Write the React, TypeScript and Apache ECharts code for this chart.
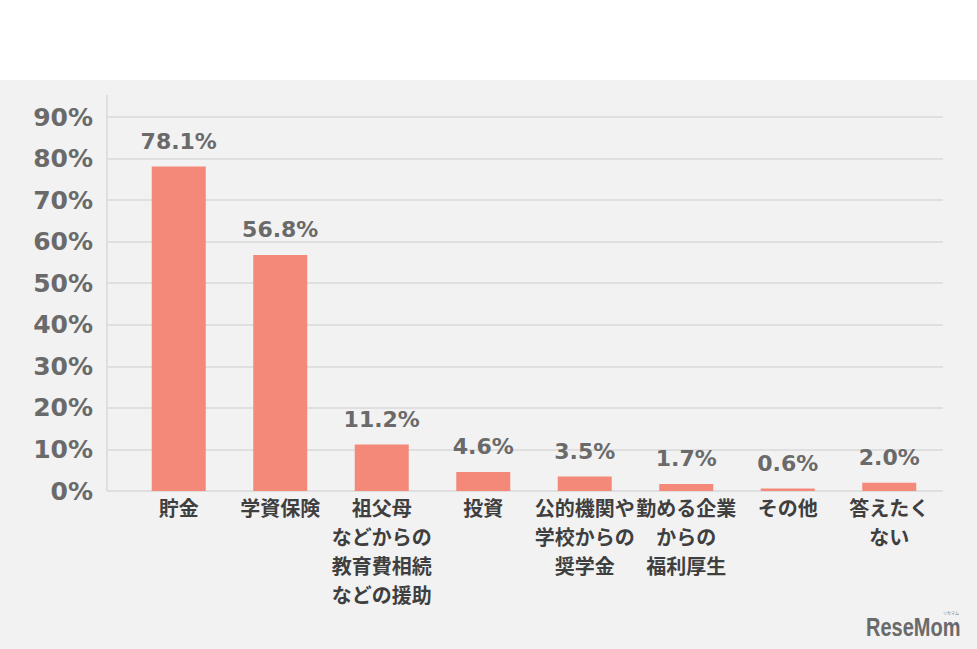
import React, { useEffect, useRef } from "react";
import * as echarts from "echarts";

const categories = [
  "貯金",
  "学資保険",
  "祖父母\nなどからの\n教育費相続\nなどの援助",
  "投資",
  "公的機関や\n学校からの\n奨学金",
  "勤める企業\nからの\n福利厚生",
  "その他",
  "答えたく\nない",
];
const values = [78.1, 56.8, 11.2, 4.6, 3.5, 1.7, 0.6, 2.0];
const yMax = 90;
const yStep = 10;

export default function App() {
  const ref = useRef<HTMLDivElement>(null);
  useEffect(() => {
    if (!ref.current) return;
    const chart = echarts.init(ref.current, null, { renderer: "svg" });
    const gridTop = 117;
    const gridBottom = 158;
    chart.setOption({
      animation: false,
      backgroundColor: "transparent",
      grid: [
        { left: 107, right: 34, top: gridTop, bottom: gridBottom },
        { left: 128, right: 37, top: gridTop, bottom: gridBottom },
      ],
      xAxis: [
        { type: "value", gridIndex: 0, show: false, min: 0, max: 1 },
        {
          type: "category",
          gridIndex: 1,
          data: categories,
          axisLine: { show: false },
          axisTick: { show: false },
          axisLabel: {
            interval: 0,
            hideOverlap: false,
            margin: 2,
            color: "#3f3f3f",
            fontFamily: "Noto Sans CJK JP",
            fontWeight: "bold",
            fontSize: 20,
            lineHeight: 29,
          },
        },
      ],
      yAxis: [
        {
          type: "value",
          gridIndex: 0,
          min: 0,
          max: yMax,
          interval: yStep,
          axisLine: { show: false },
          axisTick: { show: false },
          splitLine: { show: true, lineStyle: { color: "#d9d9d9", width: 1.5 } },
          axisLabel: {
            margin: 14,
            color: "#6a6a6a",
            fontFamily: "DejaVu Sans",
            fontWeight: "bold",
            fontSize: 25,
            formatter: (v: number) => `${v}%`,
          },
        },
        {
          type: "value",
          gridIndex: 1,
          min: 0,
          max: yMax,
          interval: yStep,
          show: false,
          splitLine: { show: false },
        },
      ],
      series: [
        {
          type: "bar",
          xAxisIndex: 1,
          yAxisIndex: 1,
          data: values,
          barWidth: 54,
          itemStyle: { color: "#f4897a" },
          label: {
            show: true,
            position: "top",
            distance: 14,
            color: "#6a6a6a",
            fontFamily: "DejaVu Sans",
            fontWeight: "bold",
            fontSize: 22,
            formatter: (p: any) => `${Number(p.value).toFixed(1)}%`,
          },
        },
      ],
      graphic: [
        {
          type: "line",
          silent: true,
          shape: { x1: 107, y1: 95, x2: 107, y2: 491 },
          style: { stroke: "#d9d9d9", lineWidth: 1.5 },
        },
        {
          type: "text",
          silent: true,
          x: 866,
          y: 615,
          scaleX: 0.8,
          style: {
            text: "ReseMom",
            fill: "#6a6a6a",
            font: "bold 25px 'Liberation Sans'",
          },
        },
        {
          type: "text",
          silent: true,
          x: 943,
          y: 611,
          style: {
            text: "リセマム",
            fill: "#777",
            font: "4px 'Noto Sans CJK JP'",
          },
        },
      ],
    });
    return () => chart.dispose();
  }, []);
  return (
    <div
      style={{
        position: "fixed",
        left: 0,
        top: 0,
        width: 977,
        height: 649,
        background: "linear-gradient(#ffffff 0px, #ffffff 80px, #f2f2f2 80px, #f2f2f2 100%)",
      }}
    >
      <div ref={ref} style={{ width: 977, height: 649 }} />
    </div>
  );
}
